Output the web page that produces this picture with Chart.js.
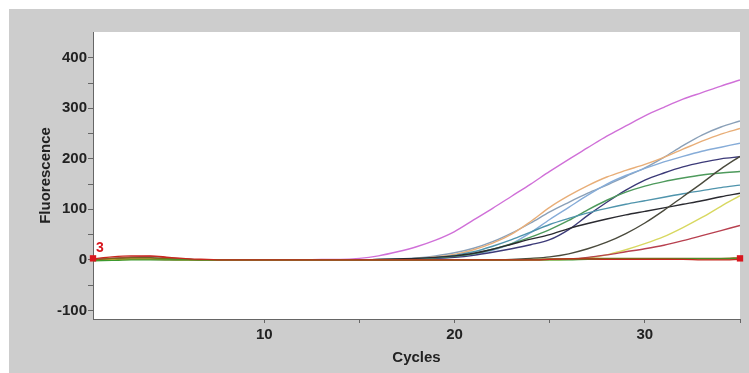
<!DOCTYPE html>
<html>
<head>
<meta charset="utf-8">
<script src="https://cdn.jsdelivr.net/npm/chart.js@4/dist/chart.umd.min.js"></script>
<style>
  html, body { margin: 0; padding: 0; background: #fff; }
  #wrap { width: 749px; height: 373px; }
</style>
</head>
<body>
<div id="wrap"><canvas id="amp-chart" width="749" height="373"></canvas></div>
<script>
// qPCR amplification curves, one array per well
const cycles = [1,2,3,4,5,6,7,8,9,10,11,12,13,14,15,16,17,18,19,20,21,22,23,24,25,26,27,28,29,30,31,32,33,34,35];
const xTicks = [10, 15, 20, 25, 30, 35];
const xLabels = [10, 20, 30];
const yTicks = [-100, -50, 0, 50, 100, 150, 200, 250, 300, 350, 400];
const yLabels = [-100, 0, 100, 200, 300, 400];

const magenta   = [1,3,4,3,2,1,0,0,0,0,0,0,1,1,3,8,16,26,39,56,79,102,126,150,175,199,222,245,265,285,302,318,331,344,356];
const slate     = [0,1,2,2,1,0,0,0,0,0,0,0,0,0,0,1,2,4,8,14,23,36,53,73,95,114,132,148,165,182,203,226,247,263,275];
const tan       = [0,1,2,1,1,0,0,0,0,0,0,0,0,0,0,1,1,3,6,11,20,33,51,76,104,127,147,164,177,189,203,219,235,249,260];
const lightBlue = [0,1,1,1,0,0,0,0,0,0,0,0,0,0,0,0,1,2,3,6,11,19,32,54,80,104,128,150,167,181,194,205,215,223,231];
const navy      = [-1,1,2,2,1,0,0,0,0,0,0,0,0,0,0,0,1,2,3,5,9,15,22,30,40,60,88,114,138,158,172,184,193,200,204];
const green     = [0,2,3,3,1,0,0,0,0,0,0,0,0,0,0,0,1,2,4,7,12,21,32,45,60,78,99,118,134,146,155,162,168,172,175];
const teal      = [0,1,2,2,1,0,0,0,0,0,0,0,0,0,0,1,2,3,5,9,16,27,40,55,70,82,93,102,110,117,124,131,137,143,148];
const black     = [0,2,4,4,2,1,0,0,0,0,0,0,0,0,0,1,2,3,5,8,13,21,31,41,50,62,72,81,89,96,103,110,117,125,132];
const darkGray  = [0,2,3,3,2,1,0,0,0,0,0,0,0,0,0,0,0,0,0,0,0,0,1,3,6,12,22,35,52,73,98,125,152,180,205];
const yellow    = [0,1,2,2,1,0,0,0,0,0,0,0,0,0,0,0,0,0,0,0,0,0,0,0,0,1,4,10,20,32,46,64,84,106,127];
const maroon    = [0,3,6,7,4,1,0,0,0,0,0,0,0,0,0,0,0,0,0,0,0,0,0,0,1,2,5,10,16,22,29,38,48,58,68];

// negative / flat wells
const flatGreen  = [-2,-1,0,0,0,0,0,0,0,0,0,0,0,0,0,0,0,0,0,0,0,0,0,0,0,0,1,1,1,1,1,2,2,2,2];
const flatRed    = [2,6,8,8,5,2,1,0,0,0,0,0,0,0,0,0,0,0,0,0,0,0,0,0,1,2,2,1,1,1,1,1,0,0,1];
const flatOlive  = [0,3,4,4,2,1,0,0,0,0,0,0,0,0,0,0,0,0,0,0,0,0,0,1,2,2,3,3,3,3,3,3,3,3,4];
const flatOrange = [-1,0,1,1,0,0,0,0,0,0,0,0,0,0,0,0,0,0,0,0,0,0,0,0,1,1,2,2,2,2,2,2,2,2,3];

// threshold markers
const markerX = [1, 35];
const markerY = [3, 3];
const markerLabel = '3';

function series(values, color) {
    return {
        data: values.map((v, i) => ({ x: cycles[i], y: v })),
        borderColor: color,
        borderWidth: 1.4,
        pointRadius: 0,
        fill: false,
        cubicInterpolationMode: 'monotone'
    };
}

const datasets = [
    {
        type: 'scatter',
        data: markerX.map((x, i) => ({ x: x, y: markerY[i] })),
        pointStyle: 'rect',
        pointRadius: 4.5,
        backgroundColor: '#d8161e',
        borderColor: '#d8161e',
        borderWidth: 0,
        clip: false
    },
    series(flatRed, '#c8281e'),
    series(flatGreen, '#3c9a2e'),
    series(flatOlive, '#7a6a18'),
    series(flatOrange, '#e0902a'),
    series(maroon, '#b8404f'),
    series(yellow, '#d8d860'),
    series(darkGray, '#4a4a3c'),
    series(black, '#2a2a30'),
    series(teal, '#4f94ac'),
    series(green, '#4e9a5c'),
    series(navy, '#3c3a78'),
    series(lightBlue, '#86acd8'),
    series(tan, '#e8ae78'),
    series(slate, '#8aa0b8'),
    series(magenta, '#d070d8')
];

const panelPlugin = {
    id: 'panel',
    beforeDraw(chart) {
        const c = chart.ctx;
        const a = chart.chartArea;
        c.save();
        c.fillStyle = '#ffffff';
        c.fillRect(0, 0, chart.width, chart.height);
        c.fillStyle = '#cdcdcd';
        c.fillRect(9, 9, chart.width - 9, chart.height - 9);
        c.fillStyle = '#ffffff';
        c.fillRect(a.left, a.top, a.right - a.left, a.bottom - a.top);
        c.restore();
    },
    afterDraw(chart) {
        const c = chart.ctx;
        const px = chart.scales.x.getPixelForValue(markerX[0]);
        const py = chart.scales.y.getPixelForValue(markerY[0]);
        c.save();
        c.fillStyle = '#d8161e';
        c.font = 'bold 14px "Liberation Sans", Arial, sans-serif';
        c.textAlign = 'left';
        c.textBaseline = 'bottom';
        c.fillText(markerLabel, px + 3, py - 3);
        c.restore();
    }
};

const tickFont = { family: '"Liberation Sans", Arial, sans-serif', size: 15, weight: 'bold' };

new Chart(document.getElementById('amp-chart').getContext('2d'), {
    type: 'line',
    data: { datasets: datasets },
    plugins: [panelPlugin],
    options: {
        responsive: false,
        animation: false,
        layout: { padding: { left: 0, right: 9, top: 32, bottom: 0 } },
        plugins: { legend: { display: false }, tooltip: { enabled: false } },
        scales: {
            x: {
                type: 'linear',
                min: 1,
                max: 35,
                afterFit: s => { s.height = 54; },
                afterBuildTicks: s => { s.ticks = xTicks.map(v => ({ value: v })); },
                grid: { drawOnChartArea: false, drawTicks: true, tickLength: 4, color: '#666' },
                border: { color: '#666', width: 1 },
                ticks: {
                    color: '#222',
                    font: tickFont,
                    padding: 3,
                    maxRotation: 0,
                    autoSkip: false,
                    callback: v => xLabels.includes(v) ? String(v) : ''
                },
                title: {
                    display: true,
                    text: 'Cycles',
                    color: '#222',
                    font: tickFont,
                    padding: { top: 0, bottom: 6 }
                }
            },
            y: {
                min: -117,
                max: 451,
                afterFit: s => { s.width = 93; },
                afterBuildTicks: s => { s.ticks = yTicks.map(v => ({ value: v })); },
                grid: { drawOnChartArea: false, drawTicks: true, tickLength: 5, color: '#666' },
                border: { color: '#666', width: 1 },
                ticks: {
                    color: '#222',
                    font: tickFont,
                    padding: 1,
                    autoSkip: false,
                    callback: v => yLabels.includes(v) ? String(v) : ''
                },
                title: {
                    display: true,
                    text: 'Fluorescence',
                    color: '#222',
                    font: tickFont,
                    padding: { top: 37, bottom: 0 }
                }
            }
        }
    }
});
</script>
</body>
</html>
